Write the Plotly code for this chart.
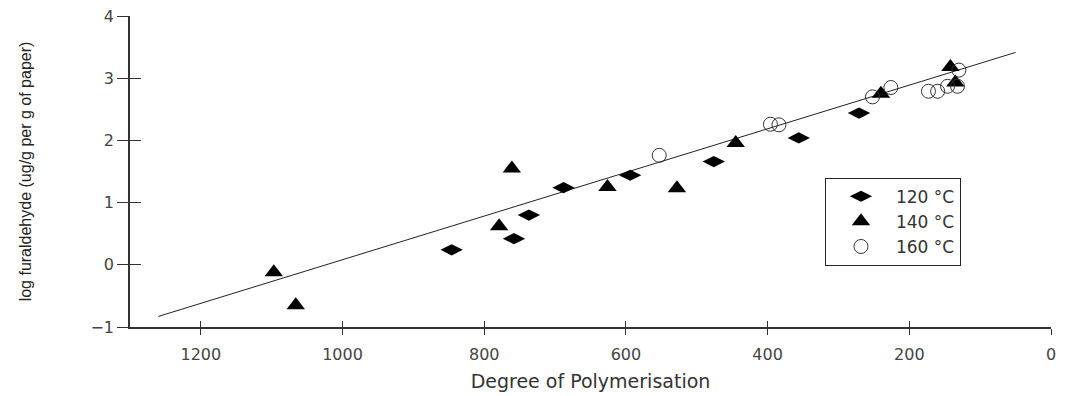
import plotly.graph_objects as go

# 120 °C (filled diamonds)
dp_120 = [846, 758, 737, 688, 594, 476, 356, 271]
logf_120 = [0.24, 0.42, 0.80, 1.24, 1.44, 1.66, 2.04, 2.44]

# 140 °C (filled triangles)
dp_140 = [1097, 1066, 779, 761, 626, 528, 445, 240, 142, 135]
logf_140 = [-0.12, -0.65, 0.62, 1.55, 1.25, 1.23, 1.96, 2.75, 3.18, 2.93]

# 160 °C (open circles)
dp_160 = [553, 396, 384, 252, 226, 173, 160, 146, 132, 130]
logf_160 = [1.76, 2.26, 2.25, 2.70, 2.85, 2.79, 2.79, 2.87, 2.87, 3.13]

# regression line: log F = a + b * DP
fit_intercept = 3.59
fit_slope = -0.003508
fit_dp = [1260, 50]
fit_logf = [fit_intercept + fit_slope * d for d in fit_dp]

x_ticks = [1200, 1000, 800, 600, 400, 200, 0]
y_ticks = [-1, 0, 1, 2, 3, 4]

FONT = "DejaVu Sans, Verdana, sans-serif"
AX = "#333333"

fig = go.Figure()
fig.add_trace(go.Scatter(x=fit_dp, y=fit_logf, mode="lines",
                         line=dict(color="#222222", width=1), showlegend=False,
                         hoverinfo="skip"))
fig.add_trace(go.Scatter(x=dp_120, y=logf_120, mode="markers", name="120 °C",
                         marker=dict(symbol="diamond-wide", size=16, color="black")))
fig.add_trace(go.Scatter(x=dp_140, y=logf_140, mode="markers", name="140 °C",
                         marker=dict(symbol="triangle-up", size=16, color="black")))
fig.add_trace(go.Scatter(x=dp_160, y=logf_160, mode="markers", name="160 °C",
                         marker=dict(symbol="circle-open", size=14, color="#333333",
                                     line=dict(width=1))))
# dummy trace to carry the overlay axes (inner half of crossing ticks)
fig.add_trace(go.Scatter(x=[None], y=[None], xaxis="x2", yaxis="y2",
                         showlegend=False, hoverinfo="skip"))

fig.update_layout(
    width=1058, height=388,
    margin=dict(l=122, r=15, t=8, b=69, autoexpand=False),
    paper_bgcolor="white", plot_bgcolor="white",
    font=dict(family=FONT, size=16, color="#444444"),
    xaxis=dict(range=[1300, 0], tickvals=x_ticks, ticks="outside", ticklen=6,
               tickcolor=AX, showline=True, linecolor=AX, linewidth=1.5,
               showgrid=False, zeroline=False, automargin=False,
               ticklabelstandoff=6, ticklabeloverflow="allow",
               tickfont=dict(size=16, color="#444444"),
               title=dict(text="Degree of Polymerisation", standoff=12,
                          font=dict(size=19, color="#333333"))),
    yaxis=dict(range=[-1, 4], tickvals=y_ticks, ticks="outside", ticklen=11,
               tickcolor=AX, showline=True, linecolor=AX, linewidth=1.5,
               showgrid=False, zeroline=False, automargin=False,
               ticklabeloverflow="allow",
               tickfont=dict(size=16, color="#444444"),
               title=dict(text="log furaldehyde (ug/g per g of paper)", standoff=55,
                          font=dict(family="Liberation Sans Narrow, Liberation Sans, Arial, sans-serif",
                                    size=16, color="#222222"))),
    xaxis2=dict(overlaying="x", matches="x", anchor="y", side="bottom",
                tickvals=x_ticks, ticks="inside", ticklen=6, tickcolor=AX,
                showticklabels=False, showgrid=False, zeroline=False, showline=False),
    yaxis2=dict(overlaying="y", matches="y", anchor="x", side="left",
                tickvals=y_ticks, ticks="inside", ticklen=11, tickcolor=AX,
                showticklabels=False, showgrid=False, zeroline=False, showline=False),
    legend=dict(x=0.7546, y=0.48, xanchor="left", yanchor="top",
                bordercolor="#222222", borderwidth=1, bgcolor="white",
                font=dict(family=FONT, size=17, color="#333333"),
                itemwidth=60),
)

fig.write_html("out.html")
